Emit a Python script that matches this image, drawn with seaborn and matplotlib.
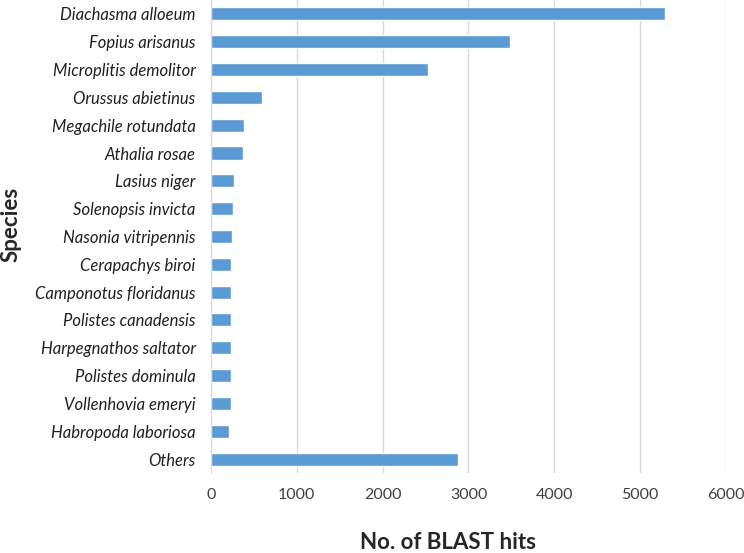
import matplotlib
matplotlib.use("Agg")
import matplotlib.pyplot as plt
import seaborn as sns
import pandas as pd

species = [
    "Diachasma alloeum", "Fopius arisanus", "Microplitis demolitor",
    "Orussus abietinus", "Megachile rotundata", "Athalia rosae",
    "Lasius niger", "Solenopsis invicta", "Nasonia vitripennis",
    "Cerapachys biroi", "Camponotus floridanus", "Polistes canadensis",
    "Harpegnathos saltator", "Polistes dominula", "Vollenhovia emeryi",
    "Habropoda laboriosa", "Others",
]
hits = [5290, 3480, 2525, 595, 383, 378, 270, 262, 244, 235, 233,
        229, 229, 229, 229, 209, 2872]
x_ticks = [0, 1000, 2000, 3000, 4000, 5000, 6000]

df = pd.DataFrame({"species": species, "hits": hits})

sns.set_style("white")
plt.rcParams["font.family"] = ["Lato", "DejaVu Sans"]

fig = plt.figure(figsize=(7.44, 5.53), dpi=100)
# plot area: x 211..726 px, y 0..473 px
ax = fig.add_axes([0.2836, 0.1447, 0.6922, 0.8553])

sns.barplot(data=df, x="hits", y="species", orient="h", color="#5B9BD5",
            saturation=1, width=0.47, ax=ax)

ax.set_xlim(0, 6000)
ax.set_xticks(x_ticks)
ax.set_xticklabels([str(t) for t in x_ticks], fontsize=11.5, color="#404040")
ax.tick_params(axis="x", length=0, pad=11)
ax.tick_params(axis="y", length=0, pad=11)
for lab in ax.get_yticklabels():
    lab.set_fontstyle("italic")
    lab.set_fontsize(12)
    lab.set_color("#202020")

ax.xaxis.grid(True, color="#d9d9d9", linewidth=1)
ax.set_axisbelow(True)
for side in ["top", "right", "bottom"]:
    ax.spines[side].set_visible(False)
ax.spines["left"].set_color("#d9d9d9")

ax.set_xlabel("No. of BLAST hits", fontsize=16, fontweight="bold")
ax.set_ylabel("Species", fontsize=16, fontweight="bold")
ax.xaxis.set_label_coords(0.46, -0.125)
ax.yaxis.set_label_coords(-0.368, 0.526)

fig.savefig("out.png", dpi=100)
